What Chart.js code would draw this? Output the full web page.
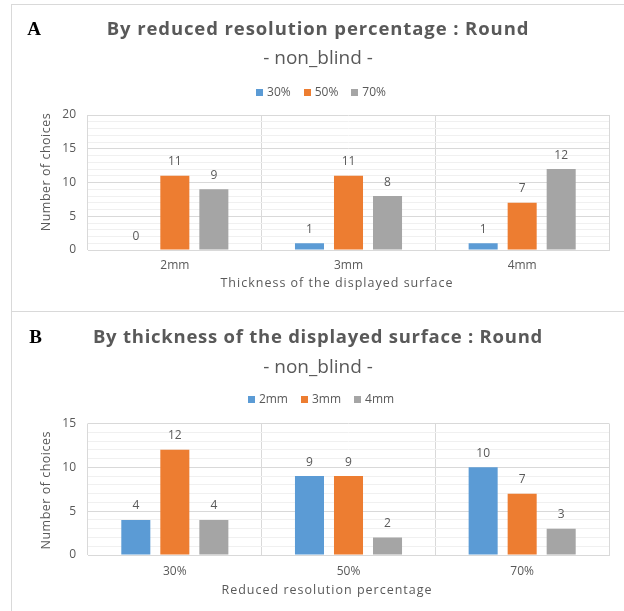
<!DOCTYPE html>
<html lang="en">
<head>
<meta charset="utf-8">
<title>Number of choices – Round, non_blind</title>
<script src="https://cdn.jsdelivr.net/npm/chart.js@4.4.1/dist/chart.umd.min.js"></script>
<style>
  html, body { margin: 0; padding: 0; background: #fff; }
  body { width: 624px; height: 611px; position: relative; overflow: hidden; }
  .panel { position: absolute; left: 11px; width: 613px; border-left: 1px solid #d9d9d9; border-top: 1px solid #d9d9d9; }
  #panelA { top: 4px; height: 306px; }
  #panelB { top: 311px; height: 299px; }
  .panel canvas { position: absolute; left: 0; top: 0; }
</style>
</head>
<body>
<div class="panel" id="panelA"><canvas id="chartA" width="612" height="306"></canvas></div>
<div class="panel" id="panelB"><canvas id="chartB" width="612" height="299"></canvas></div>
<script>
// Categories and y-axis tick labels
const thicknessLabels = ['2mm', '3mm', '4mm'];
const resolutionLabels = ['30%', '50%', '70%'];
const yTicksA = [0, 5, 10, 15, 20];
const yTicksB = [0, 5, 10, 15];

// A: choices for each reduced resolution percentage, grouped by surface thickness
const choicesRes30 = [0, 1, 1];
const choicesRes50 = [11, 11, 7];
const choicesRes70 = [9, 8, 12];

// B: choices for each surface thickness, grouped by reduced resolution percentage
const choices2mm = [4, 9, 10];
const choices3mm = [12, 9, 7];
const choices4mm = [4, 2, 3];

const BLUE = '#5B9BD5', ORANGE = '#ED7D31', GRAY = '#A5A5A5';
const INK = '#595959';
const GRID_MAJOR = '#D9D9D9', GRID_MINOR = '#F0F0F0';
const SANS = '"Open Sans", "Noto Sans", sans-serif';

function drawLabel(ctx, str, x, y, font, color, align, spacing) {
  ctx.save();
  ctx.font = font;
  ctx.fillStyle = color;
  ctx.textAlign = align || 'center';
  ctx.textBaseline = 'alphabetic';
  if ('letterSpacing' in ctx) ctx.letterSpacing = (spacing || 0) + 'px';
  ctx.fillText(str, x, y);
  ctx.restore();
}

// Value printed above every bar
const valueLabels = {
  id: 'valueLabels',
  afterDatasetsDraw(chart, args, opts) {
    const ctx = chart.ctx;
    chart.data.datasets.forEach((ds, i) => {
      chart.getDatasetMeta(i).data.forEach((bar, j) => {
        drawLabel(ctx, String(ds.data[j]), bar.x, bar.y - opts.gap, `12px ${SANS}`, INK, 'center');
      });
    });
  }
};

// Panel letter, titles, legend row and axis titles
const panelText = {
  id: 'panelText',
  afterDraw(chart, args, o) {
    const ctx = chart.ctx;
    const area = chart.chartArea;
    const mid = chart.width / 2;
    drawLabel(ctx, o.tag, o.tagX, o.titleY, 'bold 19px "Liberation Serif", serif', '#000', 'left');
    drawLabel(ctx, o.title, mid, o.titleY, `bold 18.5px ${SANS}`, INK, 'center', o.titleSpacing);
    drawLabel(ctx, o.subtitle, mid, o.subtitleY, `19px ${SANS}`, INK, 'center', 0);

    // legend: colour square + series name, centred as one group
    ctx.save();
    ctx.font = `12px ${SANS}`;
    const items = chart.data.datasets.map(ds => ({
      label: ds.label, color: ds.backgroundColor, w: ctx.measureText(ds.label).width
    }));
    ctx.restore();
    const box = 7, boxGap = 4, itemGap = 13;
    const total = items.reduce((s, it) => s + box + boxGap + it.w, 0) + itemGap * (items.length - 1);
    let x = o.legendX - total / 2;
    items.forEach(it => {
      ctx.fillStyle = it.color;
      ctx.fillRect(Math.round(x), Math.round(o.legendY - box), box, box);
      drawLabel(ctx, it.label, x + box + boxGap, o.legendY, `12px ${SANS}`, INK, 'left');
      x += box + boxGap + it.w + itemGap;
    });

    // axis titles
    drawLabel(ctx, o.xTitle, (area.left + area.right) / 2 + o.xTitleShift, area.bottom + o.xTitleGap,
      `12.5px ${SANS}`, INK, 'center', 1);
    ctx.save();
    ctx.translate(o.yTitleX, (area.top + area.bottom) / 2 + o.yTitleShift);
    ctx.rotate(-Math.PI / 2);
    drawLabel(ctx, o.yTitle, 0, 0, `12.5px ${SANS}`, INK, 'center', 0.5);
    ctx.restore();
  }
};

function buildChart(canvasId, categories, series, yTicks, margin, tickGap, textOpts) {
  return new Chart(document.getElementById(canvasId), {
    type: 'bar',
    data: {
      labels: categories,
      datasets: series.map(s => ({
        label: s.label,
        data: s.data,
        backgroundColor: s.color,
        borderWidth: 0,
        categoryPercentage: 0.674,
        barPercentage: 0.744
      }))
    },
    options: {
      responsive: false,
      maintainAspectRatio: false,
      animation: false,
      events: [],
      layout: { padding: { top: margin.top, right: margin.right, left: 0, bottom: 0 } },
      plugins: {
        legend: { display: false },
        title: { display: false },
        tooltip: { enabled: false },
        valueLabels: { gap: 10.5 },
        panelText: textOpts
      },
      scales: {
        x: {
          grid: { color: GRID_MAJOR, drawTicks: false, offset: true },
          border: { color: GRID_MAJOR },
          ticks: { color: INK, font: { family: SANS, size: 12 }, padding: tickGap },
          afterFit: s => { s.height = margin.bottom; }
        },
        y: {
          min: 0,
          max: yTicks[yTicks.length - 1],
          grid: {
            color: c => (c.tick && yTicks.includes(c.tick.value)) ? GRID_MAJOR : GRID_MINOR,
            drawTicks: false
          },
          border: { display: false },
          ticks: {
            stepSize: 1,
            autoSkip: false,
            color: INK,
            font: { family: SANS, size: 12 },
            padding: 12,
            callback: v => yTicks.includes(v) ? String(v) : ''
          },
          afterFit: s => { s.width = margin.left; }
        }
      }
    },
    plugins: [valueLabels, panelText]
  });
}

buildChart('chartA', thicknessLabels, [
  { label: '30%', data: choicesRes30, color: BLUE },
  { label: '50%', data: choicesRes50, color: ORANGE },
  { label: '70%', data: choicesRes70, color: GRAY }
], yTicksA, { top: 110, left: 76, right: 15, bottom: 61 }, 8.5, {
  tag: 'A', tagX: 15.3,
  title: 'By reduced resolution percentage : Round', titleY: 30, titleSpacing: 0.9,
  subtitle: '- non_blind -', subtitleY: 59.3,
  legendX: 309, legendY: 90.7,
  xTitle: 'Thickness of the displayed surface', xTitleShift: -11.5, xTitleGap: 36.7,
  yTitle: 'Number of choices', yTitleX: 37.5, yTitleShift: -10.5
});

buildChart('chartB', resolutionLabels, [
  { label: '2mm', data: choices2mm, color: BLUE },
  { label: '3mm', data: choices3mm, color: ORANGE },
  { label: '4mm', data: choices4mm, color: GRAY }
], yTicksB, { top: 111.5, left: 76, right: 15, bottom: 56 }, 9, {
  tag: 'B', tagX: 17.3,
  title: 'By thickness of the displayed surface : Round', titleY: 31.3, titleSpacing: 0.75,
  subtitle: '- non_blind -', subtitleY: 60.7,
  legendX: 309, legendY: 90.7,
  xTitle: 'Reduced resolution percentage', xTitleShift: -21.5, xTitleGap: 39.3,
  yTitle: 'Number of choices', yTitleX: 37.5, yTitleShift: 1
});
</script>
</body>
</html>
